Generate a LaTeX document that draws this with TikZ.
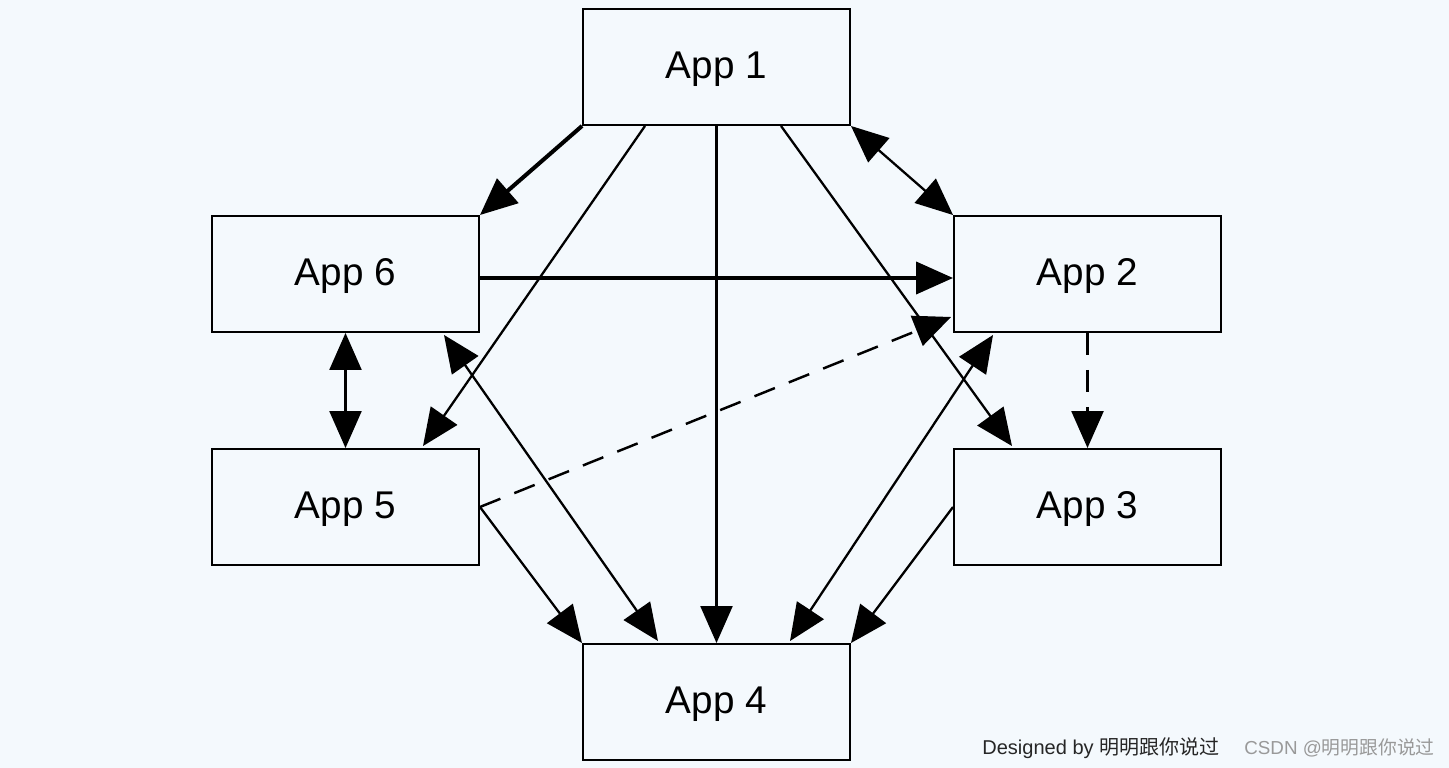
\documentclass[tikz,border=0pt]{standalone}
\usepackage{fontspec}
\setmainfont{Liberation Sans}
\newfontfamily\cjk{Noto Sans CJK SC}
\usetikzlibrary{arrows.meta,calc}
\definecolor{bgblue}{RGB}{244,249,253}
\definecolor{signgray}{RGB}{153,153,153}

\begin{document}
\begin{tikzpicture}[
  box/.style={draw,line width=1.1pt,minimum width=5.34cm,minimum height=2.32cm,
    inner sep=0pt,text height=0.56cm,text depth=0.08cm,font=\fontsize{22}{26}\selectfont},
  tip/.style={-{Triangle[length=0.74cm,width=0.64cm]}},
  twotip/.style={{Triangle[length=0.74cm,width=0.64cm]}-{Triangle[length=0.74cm,width=0.64cm]}},
  link/.style={line width=1.3pt},
  thicklink/.style={line width=2.3pt},
  dashlink/.style={line width=1.4pt,dash pattern=on 0.44cm off 0.3cm},
  sign/.style={anchor=base west,inner sep=0pt}
]
%\draw[thick,gray] (0,0) grid (29,15);
\fill[bgblue] (0,0) rectangle (28.98,15.36);
\useasboundingbox (0,0) rectangle (28.98,15.36);

\node[box] (app1) at (14.33,14.02) {App 1};
\node[box] (app6) at (6.91,9.88) {App 6};
\node[box] (app2) at (21.75,9.88) {App 2};
\node[box] (app5) at (6.91,5.22) {App 5};
\node[box] (app3) at (21.75,5.22) {App 3};
\node[box] (app4) at (14.33,1.32) {App 4};

\draw[thicklink,tip] (app1.south west)--(app6.north east);
\draw[link,tip] ($(app1.south)+(-1.43,0)$)--($(app5.north)+(1.55,0.04)$);
\draw[link,tip] (app1.south)--(app4.north);
\draw[link,tip] ($(app1.south)+(1.29,0)$)--($(app3.north)+(-1.51,0.04)$);
\draw[link,twotip] (app1.south east)--(app2.north west);

\draw[thicklink,tip] ($(app6.east)+(0,-0.08)$)--($(app2.west)+(0,-0.08)$);
\draw[link,twotip] (app6.south)--(app5.north);
\draw[link,twotip] ($(app6.south)+(1.97,-0.04)$)--($(app4.north)+(-1.17,0.04)$);

\draw[dashlink,tip] (app5.east)--($(app2.west)+(-0.04,-0.86)$);
\draw[dashlink,tip] (app2.south)--(app3.north);
\draw[link,twotip] ($(app2.south)+(-1.89,-0.04)$)--($(app4.north)+(1.47,0.04)$);

\draw[link,tip] (app5.east)--(app4.north west);
\draw[link,tip] (app3.west)--(app4.north east);

\node[sign,text=black!85,font=\fontsize{11.4}{13}\selectfont] (designer) at (19.64,0.26)
  {Designed by {\cjk 明明跟你说过}};
\node[sign,text=signgray,font=\fontsize{10.7}{13}\selectfont] (mark) at (24.88,0.26)
  {CSDN @{\cjk 明明跟你说过}};
\end{tikzpicture}
\end{document}
